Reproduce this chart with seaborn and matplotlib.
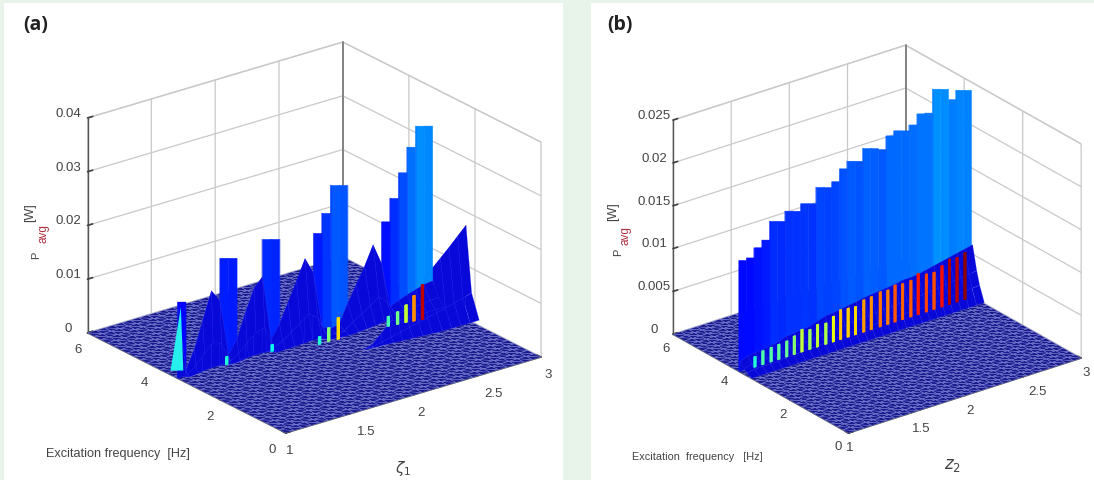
import numpy as np
import seaborn as sns
from matplotlib import pyplot as plt
from matplotlib.colors import Normalize
from matplotlib.patches import Rectangle

zeta = [1.0, 1.0667, 1.1333, 1.2, 1.2667, 1.3333, 1.4, 1.4667, 1.5333, 1.6, 1.6667,
        1.7333, 1.8, 1.8667, 1.9333, 2.0, 2.0667, 2.1333, 2.2, 2.2667, 2.3333,
        2.4, 2.4667, 2.5333, 2.6, 2.6667, 2.7333, 2.8, 2.8667, 2.9333, 3.0]
freq = [0, 0.2, 0.4, 0.6, 0.8, 1.0, 1.2, 1.4, 1.6, 1.8, 2.0, 2.2, 2.4, 2.6, 2.8, 3.0,
        3.2, 3.4, 3.6, 3.8, 4.0, 4.2, 4.4, 4.6, 4.8, 5.0, 5.2, 5.4, 5.6, 5.8, 6.0]

# (a) wall heights, one per zeta cell
wall_a = [0.01395, 0, 0, 0, 0, 0.01974, 0.01926, 0, 0, 0, 0.0209, 0.02044, 0, 0, 0, 0,
          0.0192, 0.02245, 0.02718, 0.02672, 0, 0, 0, 0, 0.01758, 0.02147, 0.02577, 0.03006, 0.0335, 0.03304]
# (a) saw-tooth ramps in front of the wall
tail_a = [0.0139, 0.0010, 0.0045, 0.0095, 0.0144, 0.0120, 0.0015, 0.0040, 0.0085, 0.0125,
          0.0142, 0.0020, 0.0045, 0.0080, 0.0115, 0.0152, 0.0120, 0.0015, 0.0008, 0.0010,
          0.0045, 0.0075, 0.0105, 0.0140, 0.0100, 0.0016, 0.0022, 0.0028, 0.0033, 0.0038, 0.0040]
# how far the ramps reach to lower frequency [Hz]
band_a = [0.10, 0.10, 0.10, 0.10, 0.10, 0.10, 0.10, 0.10, 0.10, 0.12, 0.14, 0.16, 0.18, 0.20, 0.22, 0.24,
          0.26, 0.28, 0.30, 0.32, 0.34, 0.34, 0.34, 0.34, 0.34, 0.34, 0.34, 0.34, 0.34, 0.34, 0.34]
# (a) big front ridge, from zeta index 18
front_a = [0, 0.0005, 0.0020, 0.0035, 0.0050, 0.0066, 0.0082, 0.0097, 0.0113, 0.0128, 0.0143, 0.0159, 0.0175]
front_band = [0.0, 0.1, 0.2, 0.3, 0.4, 0.5, 0.6, 0.7, 0.8, 0.85, 0.9, 0.95, 1.0]
ribbon_rows = [0.05, 0.35, 1.0, 0.0]
ribbon_back = [1.0, 0.5, 0.0, -0.1]
front_rows = [0.06, 0.31, 1.0, 0.0]
front_back = [0.4, 0.17, 0.0, -0.03]

slit_zeta_a = [1.368, 1.72, 2.021, 2.095, 2.163, 2.537, 2.601, 2.662, 2.714, 2.773]
slit_freq_a = [3.24, 3.22, 2.95, 2.96, 2.93, 2.86, 2.83, 2.81, 2.77, 2.74]
slit_h_a = [0.0015, 0.0013, 0.0015, 0.0026, 0.0041, 0.0019, 0.0024, 0.0033, 0.0048, 0.0065]

# (b) wall heights
wall_b = [0.0128, 0.0128, 0.0137, 0.0143, 0.0162, 0.0159, 0.0168, 0.0165, 0.0171, 0.0168,
          0.0184, 0.0181, 0.0185, 0.0197, 0.0203, 0.0200, 0.0212, 0.0209, 0.0205, 0.0218,
          0.0221, 0.0218, 0.0222, 0.0232, 0.0230, 0.0255, 0.0252, 0.0237, 0.0245, 0.0242]
tail_b = [0.0012, 0.0016, 0.0017, 0.0018, 0.0019, 0.0021, 0.0024, 0.0025, 0.0026, 0.0027,
          0.0030, 0.0033, 0.0034, 0.0035, 0.0037, 0.0038, 0.0040, 0.0041, 0.0042, 0.0043,
          0.0044, 0.0046, 0.0046, 0.0047, 0.0049, 0.0051, 0.0053, 0.0055, 0.0057, 0.0059, 0.0061]
slit_h_b = [0.00125, 0.00164, 0.00171, 0.00179, 0.00187, 0.00218, 0.00265, 0.00234, 0.00265, 0.00249,
            0.0030, 0.0035, 0.00339, 0.00331, 0.00378, 0.00386, 0.00409, 0.00401, 0.00432, 0.00421,
            0.00428, 0.00479, 0.00444, 0.00436, 0.00483, 0.0053, 0.00522, 0.00549]
slit_zeta_b = [1.119, 1.187, 1.258, 1.324, 1.392, 1.457, 1.523, 1.591, 1.657, 1.728, 1.793, 1.855,
               1.92, 1.983, 2.054, 2.119, 2.196, 2.261, 2.323, 2.388, 2.459, 2.522, 2.592, 2.658,
               2.726, 2.791, 2.856, 2.924]
ribbon_rows_b = [0.02, 0.3, 0.55, 1.0, 0.0]
ribbon_back_b = [0.4, 0.24, 0.14, 0.0, -0.03]

x_ticks = [1, 1.5, 2, 2.5, 3]
x_labels = ["1", "1.5", "2", "2.5", "3"]
x_align = ["right", "left", "center", "left", "center"]
y_ticks = [0, 2, 4, 6]
y_labels = ["0", "2", "4", "6"]
y_align = ["right", "center", "center", "center"]
z_ticks_a = [0, 0.01, 0.02, 0.03, 0.04]
z_labels_a = ["0", "0.01", "0.02", "0.03", "0.04"]
z_ticks_b = [0, 0.005, 0.01, 0.015, 0.02, 0.025]
z_labels_b = ["0", "0.005", "0.01", "0.015", "0.02", "0.025"]

sns.set_theme(style="white")
plt.rcParams["font.family"] = ["Liberation Sans", "DejaVu Sans"]
plt.rcParams["mathtext.fontset"] = "dejavusans"
jet = plt.get_cmap("jet")

W, H = 1094, 480
fig = plt.figure(figsize=(W / 100, H / 100), dpi=100, facecolor="#e8f3ea")
fig.add_artist(Rectangle((4 / W, 0), 559 / W, 477 / H, transform=fig.transFigure, fc="white", ec="none", zorder=-1))
fig.add_artist(Rectangle((591 / W, 0), 503 / W, 477 / H, transform=fig.transFigure, fc="white", ec="none", zorder=-1))


def make_axes(left, bottom, size, aspect, elev, azim, zmax, zticks, zlabels, pad):
    ax = fig.add_axes([left / W, bottom / H, size / W, size / H], projection="3d", proj_type="ortho")
    ax.patch.set_alpha(0)
    ax.computed_zorder = False
    ax.view_init(elev=elev, azim=azim)
    ax.set_box_aspect(aspect, zoom=1)
    ax.set_xlim(1, 3, view_margin=0)
    ax.set_ylim(0, 6, view_margin=0)
    ax.set_zlim(0, zmax, view_margin=0)
    ax.set_xticks(x_ticks, x_labels)
    ax.set_yticks(y_ticks, y_labels)
    ax.set_zticks(zticks, zlabels)
    for axis in (ax.xaxis, ax.yaxis, ax.zaxis):
        axis.set_pane_color((1, 1, 1, 1))
        axis.pane.set_edgecolor("#d0d0d0")
        axis.line.set_color("#555555")
        axis.line.set_linewidth(1.0)
        axis._axinfo["grid"].update(color="#c9c9c9", linewidth=0.9)
        axis._axinfo["tick"].update(inward_factor=0, outward_factor=0.25)
    ax.tick_params(labelsize=9.5, colors="#444444", pad=pad)
    ax.tick_params(axis="z", pad=0)
    ax.zaxis.set_ticks_position("upper")
    for label, ha in zip(ax.get_xticklabels(), x_align):
        label.set_ha(ha)
    for label, ha in zip(ax.get_yticklabels(), y_align):
        label.set_ha(ha)
    for label in ax.get_zticklabels():
        label.set_va("baseline")
    ax.grid(True)
    # back corner
    ax.plot([3, 3], [6, 6], [0, zmax], color="#777777", lw=1.2, zorder=0.5)
    return ax


def floor(ax):
    X, Y = np.meshgrid(zeta, freq)
    nx = len(zeta)
    # regular triangles, same diagonal everywhere
    tris = []
    for r in range(len(freq) - 1):
        for c in range(nx - 1):
            p = r * nx + c
            tris += [[p, p + 1, p + nx], [p + 1, p + nx + 1, p + nx]]
    ax.plot_trisurf(X.ravel(), Y.ravel(), np.zeros(X.size), triangles=tris, color="#1a1a8c",
                    edgecolor=(0.6, 0.65, 1, 0.5), linewidth=0.35, shade=False, zorder=1)


def ridge(ax, zs, f, heights, back, rows, band, z):
    X = np.tile(zs, (len(rows), 1))
    Y = f - np.outer(back, band)
    Z = np.outer(rows, heights)
    ax.plot_surface(X, Y, Z, color="#0808d8", shade=False, edgecolor=(0.25, 0.3, 1, 0.5), linewidth=0.25,
                    rstride=1, cstride=1, zorder=z)


def wall(ax, heights, f, vmax, drop):
    norm = Normalize(0, vmax)
    xs, tops, cols = [], [], []
    for i, h in enumerate(heights):
        # tops stay level on screen
        xs += [zeta[i], zeta[i + 1]]
        tops += [h + drop / 2, h - drop / 2] if h > 0 else [0, 0]
        cols += [jet(norm(h)), jet(norm(h))]
    X = np.array([xs, xs])
    Y = np.full_like(X, f)
    Z = np.array([np.zeros(len(xs)), tops])
    ax.plot_surface(X, Y, Z, facecolors=np.array([cols, cols]), shade=False, rstride=1, cstride=1,
                    linewidth=0.3, zorder=3)


def slits(ax, sz, sf, sh, lo, hi):
    norm = Normalize(lo, hi)
    ax.bar3d(sz, sf, [0] * len(sz), 0.02, 0.02, sh, color=[jet(norm(h)) for h in sh],
             shade=False, linewidth=0, zorder=5)


# (a)
ax_a = make_axes(58.2, -13.6, 498.7, (321.8, 325.6, 233.2), 22.8, 232.5, 0.04, z_ticks_a, z_labels_a, -1)
floor(ax_a)
ridge(ax_a, zeta[18:], 2.27, front_a, front_back, front_rows, front_band, 2)
wall(ax_a, wall_a, 3.28, 0.127, 0.00047)
ridge(ax_a, zeta, 3.28, tail_a, ribbon_back, ribbon_rows, band_a, 4)
ax_a.plot_trisurf([1.043, 1.107, 1.08], [3.67, 3.53, 3.5], [0, 0, 0.0121], color="#25f0ee", shade=False,
                  linewidth=0, zorder=5)
slits(ax_a, slit_zeta_a, slit_freq_a, slit_h_a, -0.002, 0.007)

# (b)
ax_b = make_axes(640.2, 4, 461.3, (291.8, 291, 236.8), 25.2, 232.9, 0.025, z_ticks_b, z_labels_b, -3)
floor(ax_b)
wall(ax_b, wall_b, 3.75, 0.096, 0.00029)
ridge(ax_b, zeta, 3.71, tail_b, ribbon_back_b, ribbon_rows_b, np.ones(31), 4)
slits(ax_b, slit_zeta_b, [3.7] * 28, slit_h_b, -0.0015, 0.0056)

# text
text_c = "#444444"
fig.text(23 / W, 1 - 25 / H, "(a)", fontsize=14, fontweight="bold", family="Open Sans", color="#222222", va="center")
fig.text(607 / W, 1 - 25 / H, "(b)", fontsize=14, fontweight="bold", family="Open Sans", color="#222222", va="center")
fig.text(46 / W, 1 - 454 / H, "Excitation frequency  [Hz]", fontsize=9.1, color=text_c, va="center")
fig.text(632 / W, 1 - 457 / H, "Excitation  frequency   [Hz]", fontsize=7.8, color=text_c, va="center")
fig.text(403 / W, 1 - 468 / H, r"$\zeta_1$", fontsize=11, color=text_c, ha="center", va="center")
fig.text(953 / W, 1 - 465 / H, r"$z_2$", fontsize=12, color=text_c, ha="center", va="center")
for xs, ys in (((30, 44, 36), (213, 234, 255)), ((613, 625, 618), (212, 236, 252))):
    fig.text(xs[0] / W, 1 - ys[0] / H, "[W]", fontsize=9, rotation=90, color=text_c, ha="center", va="center")
    fig.text(xs[1] / W, 1 - ys[1] / H, "avg", fontsize=8.5, rotation=90, color="#b03040", ha="center", va="center")
    fig.text(xs[2] / W, 1 - ys[2] / H, "P", fontsize=8, rotation=90, color=text_c, ha="center", va="center")

fig.savefig("out.png", dpi=100)
